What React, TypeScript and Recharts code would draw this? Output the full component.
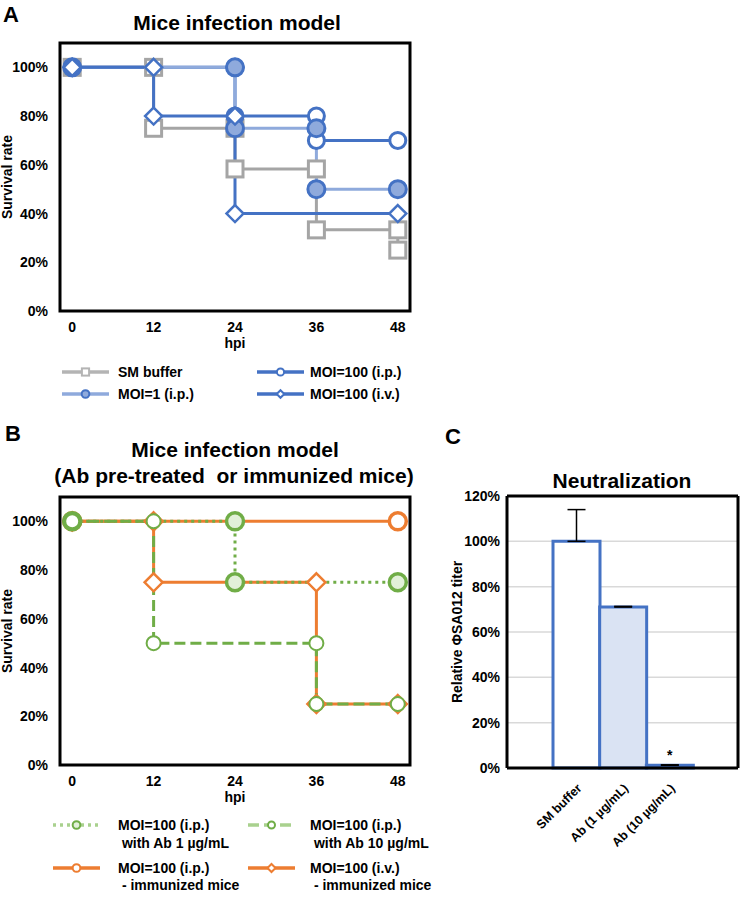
import React from "react";
import {
  LineChart,
  Line,
  XAxis,
  YAxis,
  ReferenceArea,
  BarChart,
  Bar,
  Cell,
  ErrorBar,
  LabelList,
  CartesianGrid,
} from "recharts";

const FONT = '"Liberation Sans", Arial, sans-serif';

// shared x axis of the survival panels
const hpi = [0, 12, 24, 36, 48];
const survivalTicks = [0, 0.2, 0.4, 0.6, 0.8, 1];

// panel A survival (fraction alive at each hpi)
const smBuffer = [1, 0.75, 0.583, 0.333, 0.25];
const moi100Ip = [1, 1, 0.8, 0.7, 0.7];
const moi1Ip = [1, 1, 0.75, 0.5, 0.5];
const moi100Iv = [1, 0.8, 0.4, 0.4, 0.4];

// panel B survival
const immunIp = [1, 1, 1, 1, 1];
const immunIv = [1, 0.75, 0.75, 0.25, 0.25];
const ab1 = [1, 1, 0.75, 0.75, 0.75];
const ab10 = [1, 0.5, 0.5, 0.25, 0.25];

// panel C neutralization
const groups = ["SM buffer", "Ab (1 µg/mL)", "Ab (10 µg/mL)"];
const titer = [1.0, 0.71, 0.012];
const titerSd = [0.14, 0.003, 0.002];
const signif = ["", "", "*"];
const titerTicks = [0, 0.2, 0.4, 0.6, 0.8, 1, 1.2];

const X_DOMAIN: [number, number] = [-1.8, 49.8];
const Y_MAX = 1.1;

const pct = (v: number) => `${Math.round(v * 100)}%`;

// Kaplan-Meier style steps: a point at start, at both ends of each drop, and at the end
function steps(vals: number[]) {
  const pts: { t: number; s: number }[] = [];
  vals.forEach((v, i) => {
    const prev = vals[i - 1];
    if (i === 0) pts.push({ t: hpi[i], s: v });
    else if (prev !== v) {
      pts.push({ t: hpi[i], s: prev });
      pts.push({ t: hpi[i], s: v });
    } else if (i === vals.length - 1) pts.push({ t: hpi[i], s: v });
  });
  return pts;
}

type Marker = { shape: "square" | "circle" | "diamond"; size: number; fill: string; stroke: string; sw: number };
type Series = {
  name: string;
  values: number[];
  color: string;
  legendColor?: string;
  dash?: string;
  marker: Marker;
};

function drawMarker(m: Marker, cx: number, cy: number, key: string) {
  const s = m.size;
  if (m.shape === "square")
    return <rect key={key} x={cx - s} y={cy - s} width={s * 2} height={s * 2} fill={m.fill} stroke={m.stroke} strokeWidth={m.sw} />;
  if (m.shape === "diamond")
    return (
      <polygon
        key={key}
        points={`${cx},${cy - s} ${cx + s},${cy} ${cx},${cy + s} ${cx - s},${cy}`}
        fill={m.fill}
        stroke={m.stroke}
        strokeWidth={m.sw}
      />
    );
  return <circle key={key} cx={cx} cy={cy} r={s} fill={m.fill} stroke={m.stroke} strokeWidth={m.sw} />;
}

const GRAY = "#a5a5a5";
const BLUE = "#4472c4";
const LBLUE = "#8faadc";
const ORANGE = "#ed7d31";
const GREEN = "#70ad47";

const seriesA: Series[] = [
  { name: "SM buffer", values: smBuffer, color: GRAY, legendColor: "#b4b4b4", marker: { shape: "square", size: 8, fill: "#fff", stroke: GRAY, sw: 3 } },
  { name: "MOI=100 (i.p.)", values: moi100Ip, color: BLUE, marker: { shape: "circle", size: 8, fill: "#fff", stroke: BLUE, sw: 3 } },
  { name: "MOI=1 (i.p.)", values: moi1Ip, color: LBLUE, marker: { shape: "circle", size: 8.5, fill: LBLUE, stroke: BLUE, sw: 3 } },
  { name: "MOI=100 (i.v.)", values: moi100Iv, color: BLUE, marker: { shape: "diamond", size: 8.5, fill: "#fff", stroke: BLUE, sw: 2.5 } },
];

const seriesB: Series[] = [
  { name: "imm i.p.", values: immunIp, color: ORANGE, marker: { shape: "circle", size: 8.5, fill: "#fff", stroke: ORANGE, sw: 3.5 } },
  { name: "imm i.v.", values: immunIv, color: ORANGE, marker: { shape: "diamond", size: 9, fill: "#fff", stroke: ORANGE, sw: 2.5 } },
  { name: "Ab 1", values: ab1, color: GREEN, legendColor: "#a9d18e", dash: "3 4", marker: { shape: "circle", size: 8.5, fill: "#e2f0d9", stroke: GREEN, sw: 3.5 } },
  { name: "Ab 10", values: ab10, color: GREEN, legendColor: "#a9d18e", dash: "11 5", marker: { shape: "circle", size: 7, fill: "#fff", stroke: GREEN, sw: 2 } },
];

const tickStyle = { fill: "#000", fontSize: 14, fontWeight: 700, fontFamily: FONT };

function SurvivalPanel({ series }: { series: Series[] }) {
  return (
    <LineChart width={420} height={356} margin={{ top: 43, right: 10, bottom: 0, left: 0 }}>
      <ReferenceArea x1={X_DOMAIN[0]} x2={X_DOMAIN[1]} y1={0} y2={Y_MAX} fill="none" stroke="#000" strokeWidth={3} ifOverflow="visible" />
      <XAxis
        dataKey="t"
        type="number"
        domain={X_DOMAIN}
        ticks={hpi}
        allowDataOverflow
        axisLine={false}
        tickLine={false}
        tickSize={0}
        tickMargin={11}
        height={45}
        tick={tickStyle}
        label={{ value: "hpi", position: "insideBottom", offset: 8, style: { ...tickStyle } }}
      />
      <YAxis
        type="number"
        domain={[0, Y_MAX]}
        ticks={survivalTicks}
        allowDataOverflow
        width={60}
        axisLine={false}
        tickLine={false}
        tickSize={0}
        tickMargin={12}
        tickFormatter={pct}
        tick={tickStyle}
        label={{ value: "Survival rate", angle: -90, position: "insideLeft", offset: 7, style: { ...tickStyle, fontSize: 14, textAnchor: "middle" } }}
      />
      {series.map((s) => (
        <Line
          key={s.name}
          data={steps(s.values)}
          dataKey="s"
          type="linear"
          stroke={s.color}
          strokeWidth={3}
          strokeDasharray={s.dash}
          dot={(p: any) => drawMarker(s.marker, p.cx, p.cy, `${s.name}-${p.index}`)}
          activeDot={false}
          isAnimationActive={false}
        />
      ))}
    </LineChart>
  );
}

function SlantTick(p: any) {
  return (
    <g transform={`translate(${p.x + 6},${p.y + 21})`}>
      <text textAnchor="end" transform="rotate(-45)" fill="#000" fontSize={12.5} fontWeight={700} fontFamily={FONT}>
        {p.payload.value}
      </text>
    </g>
  );
}

const titerData = groups.map((g, i) => ({ g, v: titer[i], err: [0, titerSd[i]], star: signif[i] }));
const barFills = ["#ffffff", "#dae3f3", "#dae3f3"];

function NeutralizationPanel() {
  const frame = { stroke: "#000", strokeWidth: 3 };
  return (
    <BarChart width={329} height={448} data={titerData} margin={{ top: 75, right: 10, bottom: 0, left: 0 }} barCategoryGap={0}>
      <CartesianGrid vertical={false} stroke="#d9d9d9" strokeWidth={1.5} />
      <XAxis
        dataKey="g"
        interval={0}
        padding={{ left: 46, right: 45 }}
        height={100}
        axisLine={frame}
        tickLine={false}
        tickSize={0}
        tickMargin={0}
        tick={<SlantTick />}
      />
      <XAxis xAxisId="top" orientation="top" height={1} tick={false} tickLine={false} axisLine={frame} />
      <YAxis
        domain={[0, 1.2]}
        ticks={titerTicks}
        width={87}
        axisLine={frame}
        tickLine={false}
        tickSize={0}
        tickMargin={7}
        tickFormatter={pct}
        tick={tickStyle}
        label={{ value: "Relative ΦSA012 titer", angle: -90, position: "insideLeft", offset: 37, style: { ...tickStyle, textAnchor: "middle" } }}
      />
      <YAxis yAxisId="r" orientation="right" width={1} tick={false} tickLine={false} axisLine={frame} />
      <Bar dataKey="v" stroke={BLUE} strokeWidth={3} isAnimationActive={false}>
        {titerData.map((d, i) => (
          <Cell key={d.g} fill={barFills[i]} />
        ))}
        <ErrorBar dataKey="err" direction="y" width={9} stroke="#000" strokeWidth={1.5} />
        <LabelList dataKey="star" position="top" offset={5} style={{ fill: "#000", fontSize: 14, fontWeight: 700, fontFamily: FONT }} />
      </Bar>
    </BarChart>
  );
}

function T({ x, y, size = 14, center, children }: { x: number; y: number; size?: number; center?: boolean; children: React.ReactNode }) {
  return (
    <div
      style={{
        position: "absolute",
        left: x,
        top: y,
        transform: `translate(${center ? "-50%" : "0"}, -50%)`,
        fontSize: size,
        lineHeight: 1,
        fontWeight: 700,
        whiteSpace: "pre",
        color: "#000",
      }}
    >
      {children}
    </div>
  );
}

function LegendKey({ x, y, s }: { x: number; y: number; s: Series }) {
  const m = { ...s.marker, size: Math.max(3.5, s.marker.size * 0.45), sw: 2 };
  return (
    <svg style={{ position: "absolute", left: x, top: y - 10 }} width={47} height={20}>
      <line x1={0} y1={10} x2={47} y2={10} stroke={s.legendColor ?? s.color} strokeWidth={3.5} strokeDasharray={s.dash} />
      {drawMarker({ ...m, stroke: s.marker.stroke === GRAY ? "#b4b4b4" : m.stroke }, 23.5, 10, "k")}
    </svg>
  );
}

export default function App() {
  return (
    <div style={{ position: "absolute", left: 0, top: 0, width: 749, height: 914, background: "#fff", fontFamily: FONT }}>
      <T x={3} y={15} size={22}>A</T>
      <T x={237} y={22} size={21} center>Mice infection model</T>
      <div style={{ position: "absolute", left: 0, top: 0 }}>
        <SurvivalPanel series={seriesA} />
      </div>
      <LegendKey x={62} y={372} s={seriesA[0]} />
      <T x={118} y={372}>SM buffer</T>
      <LegendKey x={62} y={394} s={seriesA[2]} />
      <T x={118} y={394}>MOI=1 (i.p.)</T>
      <LegendKey x={257} y={372} s={seriesA[1]} />
      <T x={310} y={372}>MOI=100 (i.p.)</T>
      <LegendKey x={257} y={394} s={seriesA[3]} />
      <T x={310} y={394}>MOI=100 (i.v.)</T>

      <T x={5} y={434} size={22}>B</T>
      <T x={235} y={449} size={21} center>Mice infection model</T>
      <T x={234} y={475} size={21} center>(Ab pre-treated  or immunized mice)</T>
      <div style={{ position: "absolute", left: 0, top: 454 }}>
        <SurvivalPanel series={seriesB} />
      </div>
      <LegendKey x={53} y={825} s={seriesB[2]} />
      <T x={118} y={825}>MOI=100 (i.p.)</T>
      <T x={118} y={843}> with Ab 1 µg/mL</T>
      <LegendKey x={248} y={825} s={seriesB[3]} />
      <T x={310} y={825}>MOI=100 (i.p.)</T>
      <T x={310} y={843}> with Ab 10 µg/mL</T>
      <LegendKey x={53} y={868} s={seriesB[0]} />
      <T x={118} y={868}>MOI=100 (i.p.)</T>
      <T x={118} y={885}> - immunized mice</T>
      <LegendKey x={248} y={868} s={seriesB[1]} />
      <T x={310} y={868}>MOI=100 (i.v.)</T>
      <T x={310} y={885}> - immunized mice</T>

      <T x={445} y={437} size={22}>C</T>
      <T x={622} y={480} size={21} center>Neutralization</T>
      <div style={{ position: "absolute", left: 420, top: 420 }}>
        <NeutralizationPanel />
      </div>
    </div>
  );
}
